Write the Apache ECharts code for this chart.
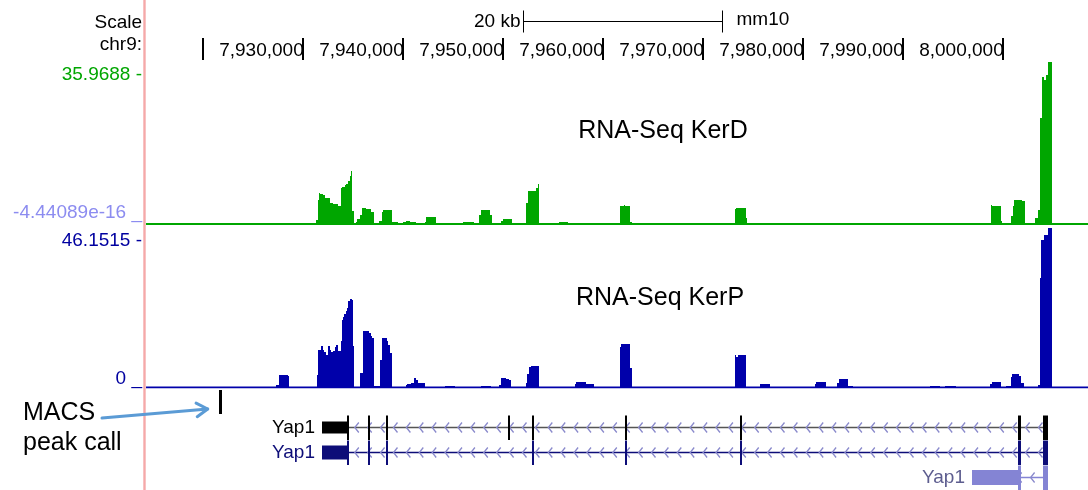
<!DOCTYPE html>
<html>
<head>
<meta charset="utf-8">
<title>Yap1 locus - RNA-Seq KerD / KerP</title>
<script src="https://cdn.jsdelivr.net/npm/echarts@6.0.0/dist/echarts.min.js"></script>
<style>
html, body { margin: 0; padding: 0; background: #fff; }
#container { width: 1088px; height: 490px; }
</style>
</head>
<body>
<div id="container"></div>
<script>
// view window on chr9 (mm10)
var viewStart = 7914330;
var viewEnd = 8008530;

var rulerTicks = [7920000, 7930000, 7940000, 7950000, 7960000, 7970000, 7980000, 7990000, 8000000];
var scaleBar = [[7952000, 7972000, 0]];

var kerDMax = 35.9688;
var kerPMax = 46.1515;

// [start, end, value]
var kerD = [
    [7927000, 7928000, 0.3], [7931370, 7931530, 0.9], [7931530, 7931630, 5.3], [7931630, 7931770, 6.9],
    [7931770, 7932030, 6.7], [7932030, 7932200, 6.4], [7932200, 7932630, 5.8], [7932630, 7932700, 5.7],
    [7932700, 7933030, 4.7], [7933030, 7933530, 4.5], [7933530, 7933870, 3.9], [7933870, 7933970, 8.0],
    [7933970, 7934200, 8.2], [7934200, 7934370, 8.7], [7934370, 7934530, 8.9], [7934530, 7934700, 9.5],
    [7934700, 7934830, 10.6], [7934830, 7934970, 11.7], [7934970, 7935100, 2.8], [7935300, 7935470, 0.5],
    [7935470, 7935700, 1.1], [7935700, 7935970, 1.9], [7935970, 7936370, 3.6], [7936370, 7936830, 3.4],
    [7936830, 7937100, 2.7], [7937100, 7937370, 0.3], [7937630, 7937900, 0.7], [7937900, 7938030, 2.7],
    [7938030, 7938970, 3.2], [7938970, 7939570, 0.5], [7939700, 7940030, 0.3], [7940030, 7940370, 0.5],
    [7940370, 7940700, 0.7], [7940700, 7941300, 0.5], [7941300, 7942230, 0.15], [7942230, 7942370, 0.5],
    [7942370, 7943370, 1.6], [7943370, 7944300, -0.05], [7944300, 7945230, 0.3], [7945230, 7946030, -0.05],
    [7946030, 7947100, 0.5], [7947170, 7947630, -0.05], [7947630, 7947830, 1.9], [7947830, 7948770, 3.2],
    [7948770, 7948900, 1.9], [7949830, 7950030, 0.7], [7950030, 7950900, 1.2], [7952370, 7952500, 4.6],
    [7952500, 7953370, 7.4], [7953370, 7953500, 8.0], [7953500, 7953570, 8.8], [7955630, 7956570, 0.5],
    [7961700, 7962100, 3.9], [7962100, 7962230, 4.3], [7962230, 7962770, 3.9], [7962770, 7962900, 0.5],
    [7973230, 7973370, 3.3], [7973370, 7974300, 3.6], [7974300, 7974400, 1.4], [7980230, 7981100, 0.3],
    [7998800, 7998900, 4.3], [7998900, 7999870, 3.9], [7999870, 7999970, 0.7], [8000800, 8001030, 1.7],
    [8001030, 8001130, 3.9], [8001130, 8001970, 5.4], [8001970, 8002200, 5.0], [8003230, 8003500, 1.3],
    [8003500, 8003700, 3.1], [8003700, 8003900, 23.6], [8003900, 8004100, 32.7], [8004100, 8004300, 32.0],
    [8004300, 8004530, 33.0], [8004530, 8004970, 35.9688], [8004970, 8005100, 0.3]
];

var kerP = [
    [7927370, 7927600, 0.8], [7927600, 7928530, 3.7], [7928530, 7928630, 3.4], [7931430, 7931530, 3.7],
    [7931530, 7931800, 10.9], [7931800, 7932030, 12.1], [7932030, 7932130, 10.9], [7932130, 7932300, 10.4],
    [7932300, 7932530, 9.5], [7932530, 7932700, 12.1], [7932700, 7932870, 10.9], [7932870, 7933030, 10.4],
    [7933030, 7933200, 10.6], [7933200, 7933370, 11.6], [7933370, 7933530, 12.4], [7933530, 7933800, 10.6],
    [7933800, 7933900, 13.5], [7933900, 7934030, 19.6], [7934030, 7934170, 20.5], [7934170, 7934300, 21.2],
    [7934300, 7934430, 22.0], [7934430, 7934570, 23.0], [7934570, 7934700, 24.9], [7934700, 7934900, 25.7],
    [7934900, 7934970, 25.4], [7934970, 7935100, 11.9], [7935770, 7936030, 4.1], [7936030, 7936630, 16.4],
    [7936630, 7936800, 15.7], [7936800, 7936900, 15.0], [7936900, 7937100, 14.3], [7937100, 7937700, 0.3],
    [7937700, 7937900, 8.0], [7937900, 7938430, 14.3], [7938430, 7938570, 13.5], [7938570, 7938770, 12.4],
    [7938770, 7938970, 9.9], [7940300, 7940430, 0.8], [7940430, 7940830, 1.1], [7940830, 7941170, 1.4],
    [7941170, 7941330, 2.7], [7941330, 7941500, 2.2], [7941500, 7942270, 1.4], [7944200, 7945270, 0.3],
    [7947800, 7948800, 0.3], [7949630, 7949830, 0.8], [7949830, 7950300, 2.8], [7950300, 7950630, 2.6],
    [7950630, 7950870, 2.3], [7952300, 7952470, 1.2], [7952470, 7952600, 3.8], [7952600, 7952830, 5.9],
    [7952830, 7953600, 6.3], [7957200, 7957370, 1.0], [7957370, 7958370, 1.6], [7958370, 7959100, 1.0],
    [7961700, 7961870, 11.6], [7961870, 7962770, 12.5], [7962770, 7962900, 5.6], [7973200, 7973370, 9.3],
    [7973370, 7973530, 8.7], [7973530, 7974300, 9.3], [7975770, 7976770, 1.0], [7981200, 7981370, 1.0],
    [7981370, 7982370, 1.5], [7983470, 7983630, 1.4], [7983630, 7984570, 2.4], [7984570, 7985030, 0.3],
    [7992700, 7993700, 0.4], [7994200, 7995300, 0.4], [7998700, 7998900, 1.0], [7998900, 7999870, 1.6],
    [8000370, 8000870, 0.3], [8000870, 8000970, 2.9], [8000970, 8001630, 3.8], [8001630, 8001870, 3.2],
    [8001870, 8002100, 1.4], [8003530, 8003700, 0.7], [8003700, 8003850, 31.8], [8003850, 8004100, 42.8],
    [8004100, 8004500, 44.0], [8004500, 8004970, 46.1515]
];

var annotRows = ['MACS', 'knownGene', 'refGene', 'altGene'];
var macsPeaks = [[7921600, 7921870, 0]];

var yap1KnownUtr = [[7931970, 7934500]];
var yap1KnownExons = [
    [7934430, 7934670], [7936500, 7936700], [7938370, 7938570], [7950530, 7950700], [7952900, 7953100],
    [7962200, 7962370], [7973700, 7973900], [8001530, 8001800], [8004030, 8004570]
];
var yap1RefUtr = [[7931970, 7934500]];
var yap1RefExons = [
    [7934430, 7934670], [7936500, 7936700], [7938370, 7938570], [7952900, 7953100],
    [7962200, 7962370], [7973700, 7973900], [8001530, 8001800], [8004030, 8004570]
];
var yap1AltUtr = [[7996900, 8001630]];
var yap1AltExons = [[8001530, 8001800], [8004030, 8004570]];

var FONT = '"Liberation Sans", Arial, Helvetica, sans-serif';

var geneModels = [
    {row: 1, name: 'Yap1', span: [7931970, 8004570], utr: yap1KnownUtr, exons: yap1KnownExons,
        fill: '#000000', line: '#555555', label: '#000000', utrH: 12},
    {row: 2, name: 'Yap1', span: [7931970, 8004570], utr: yap1RefUtr, exons: yap1RefExons,
        fill: '#0d0d78', line: '#0d0d78', label: '#0d0d78', utrH: 14},
    {row: 3, name: 'Yap1', span: [7996900, 8004570], utr: yap1AltUtr, exons: yap1AltExons,
        fill: '#8484d4', line: '#8484d4', label: '#5d5d8f', utrH: 15}
];

function withCommas(n) {
    return String(n).replace(/\B(?=(\d{3})+(?!\d))/g, ',');
}

function signalRenderer(color, altColor) {
    return function (params, api) {
        var s = api.value(0), e = api.value(1), v = api.value(2);
        var p0 = api.coord([s, 0]);
        var p1 = api.coord([e, v]);
        var xa = Math.round(p0[0]);
        var w = Math.max(Math.round(p1[0]) - xa, 1);
        if (v < 0) {
            return {type: 'rect', shape: {x: xa, y: p0[1] - 1, width: w, height: 2}, style: {fill: altColor}};
        }
        var top = Math.round(p1[1]);
        return {
            type: 'rect',
            shape: {x: xa, y: top, width: w, height: p0[1] - top},
            style: {fill: color}
        };
    };
}

function renderRuler(params, api) {
    var t = api.value(0);
    var p = api.coord([t, 1]);
    var kids = [{
        type: 'rect',
        shape: {x: Math.round(p[0]) - 1, y: p[1] - 13, width: 2, height: 22},
        style: {fill: '#000'}
    }];
    if (p[0] - 92 > params.coordSys.x) {
        kids.push({
            type: 'text',
            style: {text: withCommas(t), x: p[0] + 1, y: p[1] - 0.5, align: 'right', verticalAlign: 'middle',
                font: '19px ' + FONT, fill: '#000'}
        });
    }
    return {type: 'group', children: kids};
}

function renderScale(params, api) {
    var p0 = api.coord([api.value(0), api.value(2)]);
    var p1 = api.coord([api.value(1), api.value(2)]);
    var y = Math.round(p0[1]) + 0.5;
    var xa = Math.round(p0[0]) + 0.5, xb = Math.round(p1[0]) - 0.5;
    return {
        type: 'group',
        children: [
            {type: 'line', shape: {x1: xa, y1: y, x2: xb, y2: y}, style: {stroke: '#000', lineWidth: 1}},
            {type: 'line', shape: {x1: xa, y1: y - 11, x2: xa, y2: y + 11}, style: {stroke: '#000', lineWidth: 1}},
            {type: 'line', shape: {x1: xb, y1: y - 11, x2: xb, y2: y + 11}, style: {stroke: '#000', lineWidth: 1}},
            {type: 'text', style: {text: '20 kb', x: xa - 3, y: y, align: 'right', verticalAlign: 'middle', font: '19px ' + FONT, fill: '#000'}},
            {type: 'text', style: {text: 'mm10', x: xb + 14, y: y - 2, align: 'left', verticalAlign: 'middle', font: '19px ' + FONT, fill: '#000'}}
        ]
    };
}

function renderMacs(params, api) {
    var p0 = api.coord([api.value(0), api.value(2)]);
    var p1 = api.coord([api.value(1), api.value(2)]);
    var h = api.size([0, 1])[1];
    return {
        type: 'rect',
        shape: {x: Math.round(p0[0]), y: p0[1] - h / 2, width: Math.max(Math.round(p1[0] - p0[0]), 2), height: h - 1},
        style: {fill: '#000'}
    };
}

function renderGene(params, api) {
    var g = geneModels[params.dataIndex];
    var row = api.value(2);
    var bandH = api.size([0, 1])[1];
    var cy = api.coord([api.value(0), row])[1];
    var x0 = Math.round(api.coord([api.value(0), row])[0]);
    var x1 = Math.round(api.coord([api.value(1), row])[0]);
    var kids = [];
    kids.push({type: 'line', shape: {x1: x0, y1: cy, x2: x1, y2: cy}, style: {stroke: g.line, lineWidth: 1.5}});
    for (var x = x0 + 7; x < x1 - 4; x += 12.9) {
        kids.push({
            type: 'polyline',
            shape: {points: [[x + 4, cy - 5], [x, cy], [x + 4, cy + 5]]},
            style: {stroke: '#8a8acc', lineWidth: 1.3, fill: null}
        });
    }
    g.utr.forEach(function (u) {
        var a = Math.round(api.coord([u[0], row])[0]), b = Math.round(api.coord([u[1], row])[0]);
        kids.push({type: 'rect', shape: {x: a, y: cy - g.utrH / 2, width: b - a, height: g.utrH}, style: {fill: g.fill}});
    });
    g.exons.forEach(function (ex) {
        var a = Math.round(api.coord([ex[0], row])[0]), b = Math.round(api.coord([ex[1], row])[0]);
        var w = Math.max(b - a, 2);
        kids.push({type: 'rect', shape: {x: a, y: cy - bandH / 2 + 0.5, width: w, height: bandH - 0.5}, style: {fill: g.fill}});
    });
    kids.push({
        type: 'text',
        style: {text: g.name, x: x0 - 7, y: cy, align: 'right', verticalAlign: 'middle', font: '19px ' + FONT, fill: g.label}
    });
    return {type: 'group', children: kids};
}

var dom = document.getElementById('container');
var myChart = echarts.init(dom, null, {renderer: 'canvas'});

function xAx(i) {
    return {gridIndex: i, type: 'value', min: viewStart, max: viewEnd, show: false};
}

function label(id, text, x, y, align, size, color) {
    return {id: id, type: 'text', silent: true,
        style: {text: text, x: x, y: y, align: align, verticalAlign: 'middle', font: size + 'px ' + FONT, fill: color}};
}

var option = {
    animation: false,
    grid: [
        {left: 146, right: 0, top: 62, height: 162},
        {left: 146, right: 0, top: 228, height: 159.5},
        {left: 146, right: 0, top: 390, height: 100},
        {left: 146, right: 0, top: 6, height: 60}
    ],
    xAxis: [xAx(0), xAx(1), xAx(2), xAx(3)],
    yAxis: [
        {gridIndex: 0, type: 'value', min: 0, max: kerDMax, show: false},
        {gridIndex: 1, type: 'value', min: 0, max: kerPMax, show: false},
        {gridIndex: 2, type: 'category', data: annotRows, inverse: true, show: false},
        {gridIndex: 3, type: 'category', data: ['scale', 'ruler'], inverse: true, show: false}
    ],
    series: [
        {
            type: 'line', xAxisIndex: 0, yAxisIndex: 0, silent: true, symbol: 'none',
            lineStyle: {color: '#00a600', width: 2},
            data: [[viewStart, 0], [viewEnd, 0]]
        },
        {
            name: 'RNA-Seq KerD', type: 'custom', xAxisIndex: 0, yAxisIndex: 0,
            renderItem: signalRenderer('#00a600', '#8c8cf0'),
            encode: {x: [0, 1], y: 2},
            data: kerD
        },
        {
            type: 'line', xAxisIndex: 1, yAxisIndex: 1, silent: true, symbol: 'none',
            lineStyle: {color: '#0000aa', width: 2},
            data: [[viewStart, 0], [viewEnd, 0]]
        },
        {
            name: 'RNA-Seq KerP', type: 'custom', xAxisIndex: 1, yAxisIndex: 1,
            renderItem: signalRenderer('#0000aa', '#8c8cf0'),
            encode: {x: [0, 1], y: 2},
            data: kerP
        },
        {
            name: 'MACS peak call', type: 'custom', xAxisIndex: 2, yAxisIndex: 2,
            renderItem: renderMacs,
            encode: {x: [0, 1], y: 2},
            data: macsPeaks
        },
        {
            name: 'Yap1', type: 'custom', xAxisIndex: 2, yAxisIndex: 2,
            renderItem: renderGene,
            encode: {x: [0, 1], y: 2},
            data: geneModels.map(function (g) { return [g.span[0], g.span[1], g.row]; })
        },
        {
            name: 'ruler', type: 'custom', xAxisIndex: 3, yAxisIndex: 3,
            renderItem: renderRuler,
            encode: {x: 0, y: 1},
            data: rulerTicks.map(function (t) { return [t, 1]; })
        },
        {
            name: 'scale', type: 'custom', xAxisIndex: 3, yAxisIndex: 3,
            renderItem: renderScale,
            encode: {x: [0, 1], y: 2},
            data: scaleBar
        }
    ],
    graphic: [
        {id: 'divider', type: 'rect', shape: {x: 143.3, y: 0, width: 2.4, height: 490}, style: {fill: '#f5a9a9'}, silent: true},
        label('lblScale', 'Scale', 142, 23, 'right', 19, '#000'),
        label('lblChr', 'chr9:', 142, 45, 'right', 19, '#000'),
        label('lblDMax', '35.9688 -', 142, 75, 'right', 19, '#00a600'),
        label('lblDMin', '-4.44089e-16 _', 142, 213, 'right', 19, '#8c8cf0'),
        label('lblPMax', '46.1515 -', 142, 241, 'right', 19, '#0000a0'),
        label('lblPMin', '0 _', 142, 379, 'right', 19, '#0000a0'),
        label('ttlD', 'RNA-Seq KerD', 663, 131, 'center', 25, '#000'),
        label('ttlP', 'RNA-Seq KerP', 660, 298, 'center', 25, '#000'),
        label('macs1', 'MACS', 23, 413, 'left', 25, '#000'),
        label('macs2', 'peak call', 23, 443, 'left', 25, '#000')
    ]
};

myChart.setOption(option);

// arrow from the "MACS" label to the peak call
var peakPx = myChart.convertToPixel({gridIndex: 2}, [macsPeaks[0][0], 0]);
var tip = [peakPx[0] - 11, peakPx[1] + 6.5];
var tail = [102, 418];
var ang = Math.atan2(tail[1] - tip[1], tail[0] - tip[0]);
var arm = 13, spread = 0.55;
myChart.setOption({
    graphic: [
        {id: 'arrowShaft', type: 'line', silent: true,
            shape: {x1: tail[0], y1: tail[1], x2: tip[0], y2: tip[1]},
            style: {stroke: '#5b9bd5', lineWidth: 3, lineCap: 'round'}},
        {id: 'arrowHead', type: 'polyline', silent: true,
            shape: {points: [
                [tip[0] + arm * Math.cos(ang - spread), tip[1] + arm * Math.sin(ang - spread)],
                tip,
                [tip[0] + arm * Math.cos(ang + spread), tip[1] + arm * Math.sin(ang + spread)]
            ]},
            style: {stroke: '#5b9bd5', lineWidth: 3, lineCap: 'round', lineJoin: 'round', fill: null}}
    ]
});
</script>
</body>
</html>
